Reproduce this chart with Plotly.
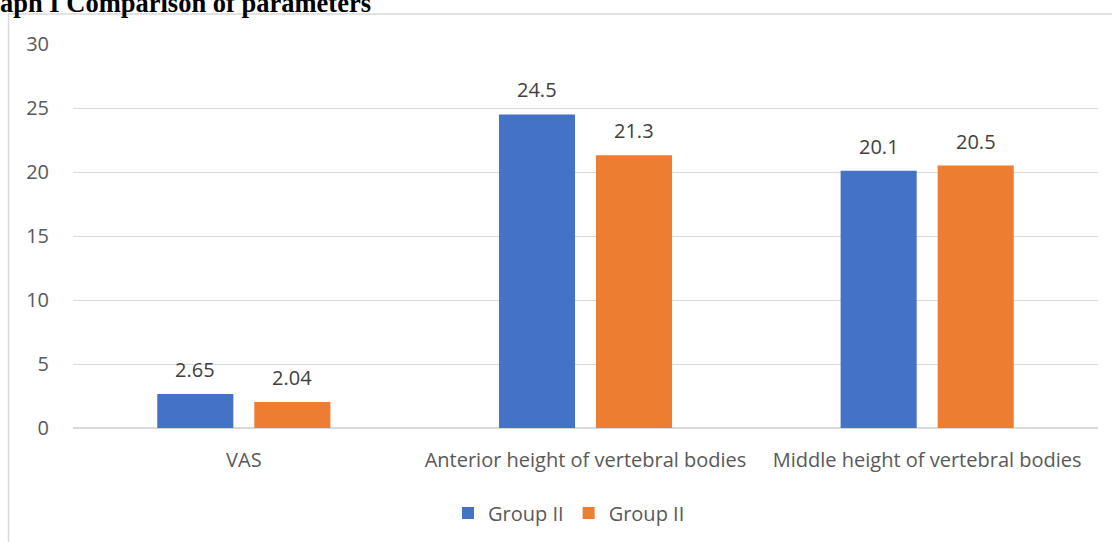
import plotly.graph_objects as go

categories = ["VAS", "Anterior height of vertebral bodies", "Middle height of vertebral bodies"]
group_a = [2.65, 24.5, 20.1]
group_b = [2.04, 21.3, 20.5]
series_names = ["Group II", "Group II"]
y_ticks = [0, 5, 10, 15, 20, 25, 30]

BLUE = "#4472C4"
ORANGE = "#ED7D31"
TEXT = "#595959"
GRID = "#D9D9D9"
FONT = "Open Sans"
FS = 20

W, H = 1112, 542
L, R, T, B = 73, 14, 44, 114
pw, ph = W - L - R, H - T - B


def px_x(px):
    return (px - L) / pw


def px_y(py):
    return (H - B - py) / ph


fig = go.Figure()
series = [(series_names[0], group_a, BLUE, -48.5), (series_names[1], group_b, ORANGE, 48.5)]
for name, vals, col, _ in series:
    fig.add_trace(go.Bar(x=categories, y=vals, name=name, marker_color=col, marker_line_width=0))

# Value labels above each bar
for name, vals, col, dx in series:
    for cat, v in zip(categories, vals):
        fig.add_annotation(x=cat, y=v, xshift=dx, yshift=9, text=f"{v:g}",
                           showarrow=False, xanchor="center", yanchor="bottom",
                           font=dict(family=FONT, size=FS, color="#404040"))

fig.update_layout(
    width=W, height=H,
    margin=dict(l=L, r=R, t=T, b=B),
    paper_bgcolor="white", plot_bgcolor="white",
    barmode="group", bargap=0.432, bargroupgap=0.216,
    font=dict(family=FONT, size=FS, color=TEXT),
    showlegend=True,
    legend=dict(orientation="h", x=0.5 + 13 / W, xanchor="center", xref="container",
                y=1 - 513 / H, yanchor="middle", yref="container",
                font=dict(family=FONT, size=FS, color=TEXT),
                traceorder="normal"),
    xaxis=dict(showgrid=False, showline=False, zeroline=False, ticks="", automargin=False,
               tickfont=dict(family=FONT, size=FS, color=TEXT), ticklabelstandoff=18),
    yaxis=dict(range=[0, 30], tickvals=y_ticks, showgrid=True, gridcolor=GRID, gridwidth=1,
               zeroline=True, zerolinecolor=GRID, zerolinewidth=1.5, showline=False, ticks="",
               automargin=False,
               tickfont=dict(family=FONT, size=FS, color=TEXT), ticklabelstandoff=23),
)

# Chart frame (left and top edges)
fig.add_shape(type="line", xref="paper", yref="paper",
              x0=px_x(8.5), x1=px_x(1112), y0=px_y(14), y1=px_y(14),
              line=dict(color=GRID, width=1.5))
fig.add_shape(type="line", xref="paper", yref="paper",
              x0=px_x(8.5), x1=px_x(8.5), y0=px_y(14), y1=px_y(542),
              line=dict(color=GRID, width=1.5))

fig.add_annotation(text="<b>aph I Comparison of parameters</b>", xref="paper", yref="paper",
                   x=px_x(-2), y=px_y(20), xanchor="left", yanchor="bottom", showarrow=False,
                   font=dict(family="Liberation Serif", size=26.5, color="black"))

fig.write_html("out.html")
